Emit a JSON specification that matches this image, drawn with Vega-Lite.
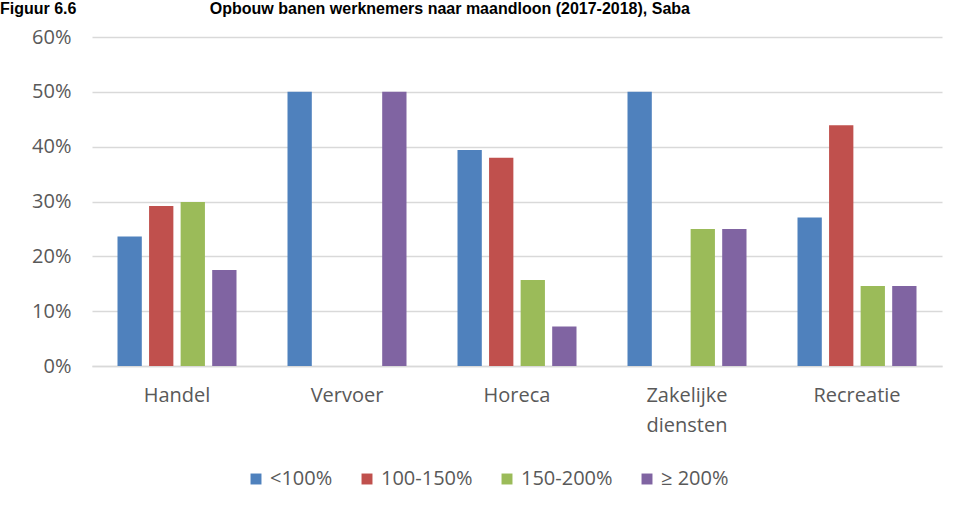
{
  "$schema": "https://vega.github.io/schema/vega-lite/v6.json",
  "autosize": "none",
  "width": 850,
  "height": 329,
  "padding": {"left": 92, "top": 37, "right": 15, "bottom": 147},
  "background": "white",
  "title": {
    "text": "Figuur 6.6\u00a0\u00a0\u00a0\u00a0\u00a0\u00a0\u00a0\u00a0\u00a0\u00a0\u00a0\u00a0\u00a0\u00a0\u00a0\u00a0\u00a0\u00a0\u00a0\u00a0\u00a0\u00a0\u00a0\u00a0\u00a0\u00a0\u00a0\u00a0\u00a0\u00a0Opbouw banen werknemers naar maandloon (2017-2018), Saba",
    "anchor": "start",
    "frame": "group",
    "dx": -92,
    "dy": 26,
    "offset": 23,
    "baseline": "alphabetic",
    "font": "Liberation Sans",
    "fontSize": 16,
    "fontWeight": "bold",
    "color": "#000000"
  },
  "data": {
    "values": [
      {"sector": "Handel", "loon": "<100%", "pct": 0.236},
      {"sector": "Handel", "loon": "100-150%", "pct": 0.292},
      {"sector": "Handel", "loon": "150-200%", "pct": 0.299},
      {"sector": "Handel", "loon": "≥ 200%", "pct": 0.175},
      {"sector": "Vervoer", "loon": "<100%", "pct": 0.5},
      {"sector": "Vervoer", "loon": "100-150%", "pct": 0},
      {"sector": "Vervoer", "loon": "150-200%", "pct": 0},
      {"sector": "Vervoer", "loon": "≥ 200%", "pct": 0.5},
      {"sector": "Horeca", "loon": "<100%", "pct": 0.394},
      {"sector": "Horeca", "loon": "100-150%", "pct": 0.38},
      {"sector": "Horeca", "loon": "150-200%", "pct": 0.157},
      {"sector": "Horeca", "loon": "≥ 200%", "pct": 0.072},
      {"sector": "Zakelijke diensten", "loon": "<100%", "pct": 0.5},
      {"sector": "Zakelijke diensten", "loon": "100-150%", "pct": 0},
      {"sector": "Zakelijke diensten", "loon": "150-200%", "pct": 0.25},
      {"sector": "Zakelijke diensten", "loon": "≥ 200%", "pct": 0.25},
      {"sector": "Recreatie", "loon": "<100%", "pct": 0.271},
      {"sector": "Recreatie", "loon": "100-150%", "pct": 0.439},
      {"sector": "Recreatie", "loon": "150-200%", "pct": 0.146},
      {"sector": "Recreatie", "loon": "≥ 200%", "pct": 0.146}
    ]
  },
  "mark": {"type": "bar"},
  "encoding": {
    "x": {
      "field": "sector",
      "type": "nominal",
      "sort": null,
      "scale": {"paddingInner": 0.3, "paddingOuter": 0.15},
      "axis": {
        "title": null,
        "labelAngle": 0,
        "labelExpr": "datum.label == 'Zakelijke diensten' ? ['Zakelijke', 'diensten'] : datum.label",
        "labelLineHeight": 30,
        "labelPadding": 19,
        "ticks": false,
        "domain": true,
        "domainColor": "#D9D9D9",
        "domainWidth": 1.3
      }
    },
    "xOffset": {
      "field": "loon",
      "type": "nominal",
      "sort": ["<100%", "100-150%", "150-200%", "≥ 200%"],
      "scale": {"paddingInner": 0.23, "paddingOuter": 0}
    },
    "y": {
      "field": "pct",
      "type": "quantitative",
      "scale": {"domain": [0, 0.6], "nice": false},
      "axis": {
        "title": null,
        "format": ".0%",
        "values": [0, 0.1, 0.2, 0.3, 0.4, 0.5, 0.6],
        "domain": false,
        "ticks": false,
        "labelPadding": 21,
        "gridColor": "#D9D9D9",
        "gridWidth": 1.3
      }
    },
    "color": {
      "field": "loon",
      "type": "nominal",
      "sort": ["<100%", "100-150%", "150-200%", "≥ 200%"],
      "scale": {
        "domain": ["<100%", "100-150%", "150-200%", "≥ 200%"],
        "range": ["#4F81BD", "#C0504D", "#9BBB59", "#8064A2"]
      },
      "legend": {
        "title": null,
        "orient": "none",
        "legendX": 154,
        "legendY": 432,
        "direction": "horizontal",
        "symbolType": "square",
        "symbolSize": 120,
        "symbolStrokeWidth": 0,
        "labelFontSize": 20,
        "labelFont": "Open Sans",
        "labelColor": "#595959",
        "columnPadding": 24,
        "labelOffset": 4
      }
    }
  },
  "config": {
    "view": {"stroke": null},
    "axis": {
      "labelFont": "Open Sans",
      "labelFontSize": 20,
      "labelColor": "#595959"
    }
  }
}
